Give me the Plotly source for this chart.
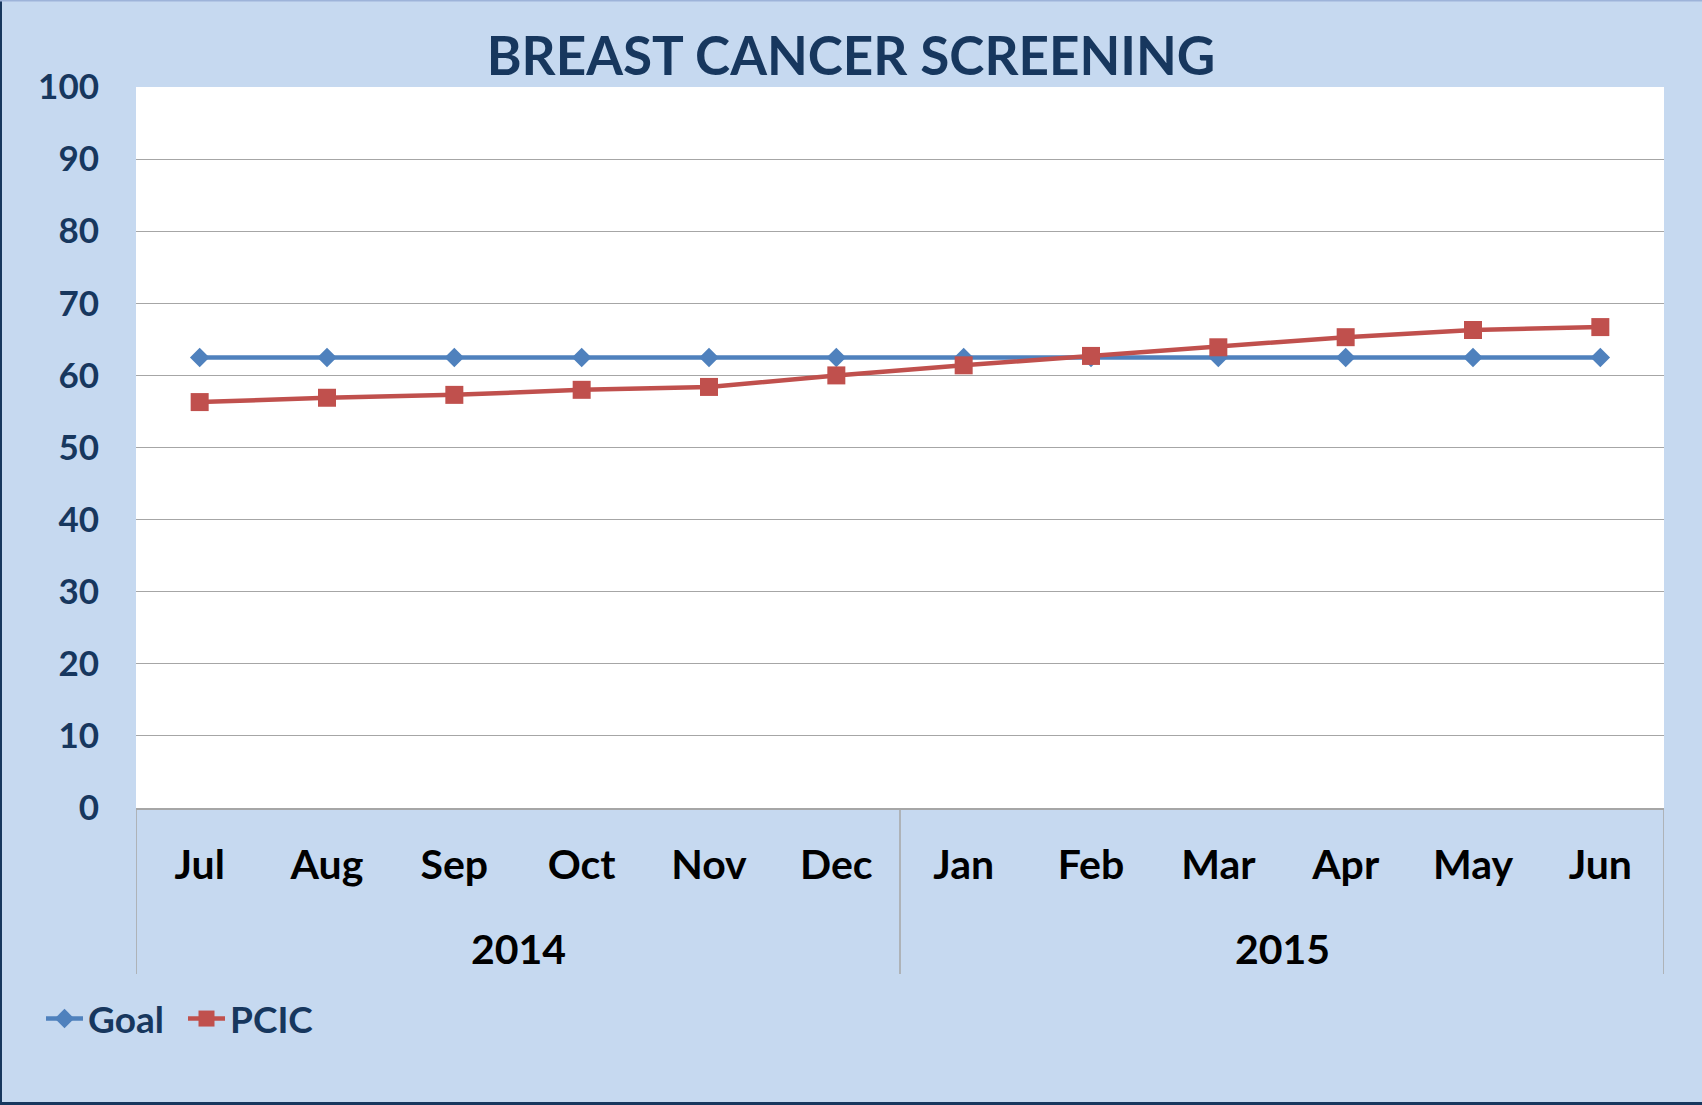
import plotly.graph_objects as go

years = ["2014"] * 6 + ["2015"] * 6
months = ["Jul", "Aug", "Sep", "Oct", "Nov", "Dec", "Jan", "Feb", "Mar", "Apr", "May", "Jun"]
goal = [62.5] * 12
pcic = [56.3, 56.9, 57.3, 58.0, 58.4, 60.0, 61.4, 62.7, 63.9, 65.3, 66.3, 66.7]
y_ticks = list(range(0, 101, 10))

NAVY = "#17375E"
BG = "#C6D9F0"
GRID = "#A6A6A6"
FONT = "Lato"

W, H = 1702, 1105
L, R, T, B = 136, 38, 87, 297
pw = W - L - R
ph = H - T - B

fig = go.Figure()
fig.add_trace(go.Scatter(
    x=months, y=goal, name="Goal", mode="lines+markers",
    line=dict(color="#4F81BD", width=4.5),
    marker=dict(symbol="diamond", size=15, color="#4F81BD"),
))
fig.add_trace(go.Scatter(
    x=months, y=pcic, name="PCIC", mode="lines+markers",
    line=dict(color="#C0504D", width=4.5),
    marker=dict(symbol="square", size=18, color="#C0504D"),
))

# year groups: dividers and centred labels, derived from the years list
groups = []
for i, yv in enumerate(years):
    if not groups or groups[-1][0] != yv:
        groups.append([yv, i, i])
    else:
        groups[-1][2] = i

div_bottom = -166 / ph
bounds = [g[1] - 0.5 for g in groups] + [groups[-1][2] + 0.5]
for bx in bounds:
    fig.add_shape(type="line", xref="x", yref="paper", x0=bx, x1=bx, y0=0, y1=div_bottom,
                  line=dict(color=GRID, width=1.5))
for name, i0, i1 in groups:
    fig.add_annotation(x=(i0 + i1) / 2, xref="x", y=-141 / ph, yref="paper",
                       text=name, showarrow=False, yanchor="middle",
                       font=dict(family=FONT, size=41, color="black", weight="bold"))

# figure border (left/bottom dark, top light)
fig.add_shape(type="line", xref="paper", yref="paper", x0=-L / pw, x1=-L / pw,
              y0=-B / ph, y1=1 + T / ph, line=dict(color=NAVY, width=4))
fig.add_shape(type="line", xref="paper", yref="paper", x0=-L / pw, x1=1 + R / pw,
              y0=-B / ph, y1=-B / ph, line=dict(color=NAVY, width=6))
fig.add_shape(type="line", xref="paper", yref="paper", x0=-L / pw, x1=1 + R / pw,
              y0=1 + T / ph, y1=1 + T / ph, line=dict(color="#9DB3D9", width=3))

fig.update_layout(
    width=W, height=H,
    margin=dict(l=L, r=R, t=T, b=B),
    paper_bgcolor=BG, plot_bgcolor="white",
    title=dict(text="BREAST CANCER SCREENING", x=0.5, xanchor="center",
               y=1 - 56 / H, yanchor="middle", yref="container",
               font=dict(family=FONT, size=53, color=NAVY, weight="bold")),
    xaxis=dict(type="category", range=[-0.5, len(months) - 0.5], showgrid=False,
               showline=True, linecolor=GRID, linewidth=1.5,
               tickfont=dict(family=FONT, size=41, color="black", weight="bold"),
               ticks="", ticklabelstandoff=20),
    yaxis=dict(range=[0, 100], tickvals=y_ticks, showgrid=True, gridcolor=GRID,
               gridwidth=1.2, zeroline=False, showline=False,
               tickfont=dict(family=FONT, size=35, color=NAVY, weight="bold"),
               ticklabelstandoff=36),
    legend=dict(orientation="h", x=41 / W, xref="container", xanchor="left",
                y=1 - 1019 / H, yref="container", yanchor="middle",
                font=dict(family=FONT, size=37, color=NAVY, weight="bold"),
                bgcolor="rgba(0,0,0,0)", itemwidth=37, entrywidth=90),
    showlegend=True,
)

fig.write_html("out.html", config={"displayModeBar": False},
               post_script="document.body.style.margin='0';")
